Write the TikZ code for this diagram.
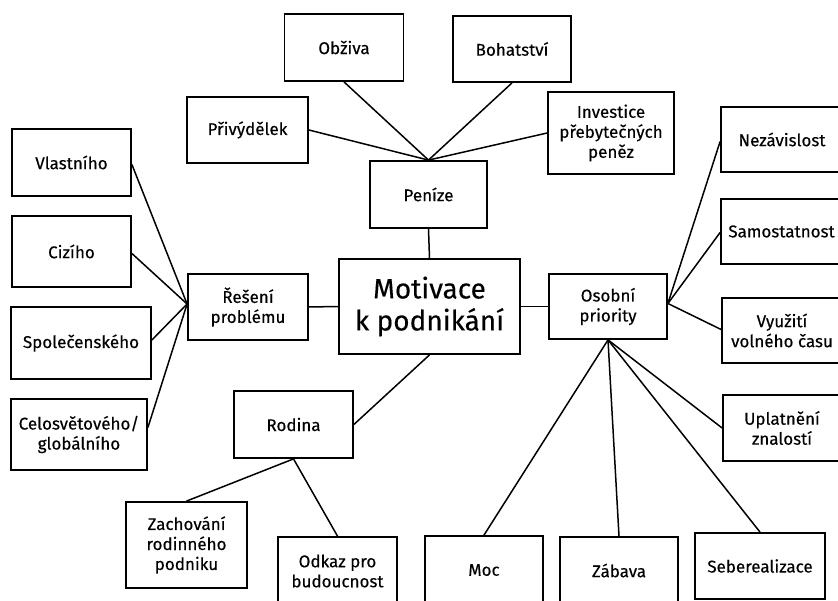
\documentclass[tikz,border=0pt]{standalone}
\usepackage{fontspec}
\setmainfont{Fira Sans}[FakeBold=0.3]
\begin{document}
\begin{tikzpicture}[x=1pt,y=-1pt,
  box/.style={draw,line width=1.8pt,rectangle,inner sep=0pt,align=center,
    font=\fontsize{17}{20}\selectfont},
  link/.style={line width=1.5pt}]
\useasboundingbox (0,0) rectangle (838,601);
\clip (0,0) rectangle (838,601);
% top
\node[box,minimum width=119pt,minimum height=67pt] (obz) at (344,47.5) {Obživa};
\node[box,minimum width=118pt,minimum height=66pt] (boh) at (512,49) {Bohatství};
\node[box,minimum width=121pt,minimum height=66pt] (pri) at (247.5,130) {Přivýdělek};
\node[box,minimum width=117pt,minimum height=67pt] (pen) at (428.5,194.5) {Peníze};
\node[box,minimum width=126pt,minimum height=82pt] (inv) at (611,133) {Investice\\přebytečných\\peněz};
% right
\node[box,minimum width=122pt,minimum height=65pt] (nez) at (782,139.5) {Nezávislost};
\node[box,minimum width=121pt,minimum height=65pt] (sam) at (781.5,231.5) {Samostatnost};
\node[box,minimum width=120pt,minimum height=65pt] (vyu) at (782,330.5) {Využití\\volného času};
\node[box,minimum width=118pt,minimum height=66pt] (upl) at (782,428) {Uplatnění\\znalostí};
% left
\node[box,minimum width=119pt,minimum height=67pt] (vla) at (71.5,162.5) {Vlastního};
\node[box,minimum width=119pt,minimum height=71pt] (ciz) at (71.5,251.5) {Cizího};
\node[box,minimum width=120pt,minimum height=66pt] (res) at (248,307) {Řešení\\problému};
\node[box,minimum width=140pt,minimum height=72pt] (spo) at (81,343) {Společenského};
\node[box,minimum width=136pt,minimum height=71pt] (cel) at (79,434.5) {Celosvětového/\\globálního};
% bottom left
\node[box,minimum width=119pt,minimum height=67pt] (rod) at (293.5,424.5) {Rodina};
\node[box,minimum width=121pt,minimum height=86pt] (zac) at (186.5,545) {Zachování\\rodinného\\podniku};
\node[box,minimum width=119pt,minimum height=68pt] (odk) at (337.5,571) {Odkaz pro\\budoucnost};
% centre
\node[box,minimum width=181pt,minimum height=95pt,font=\fontsize{28}{32}\selectfont] (mot) at (429.5,306.5) {Motivace\\k podnikání};
\node[box,minimum width=118pt,minimum height=65pt] (oso) at (608,306.5) {Osobní\\priority};
% bottom right
\node[box,minimum width=118pt,minimum height=68pt] (moc) at (484,570) {Moc};
\node[box,minimum width=118pt,minimum height=67pt] (zab) at (619,570.5) {Zábava};
\node[box,minimum width=130pt,minimum height=66pt] (seb) at (760,566) {Seberealizace};
% connectors
\draw[link] (pen.north) -- (obz.south);
\draw[link] (pen.north) -- (boh.south);
\draw[link] (pen.north) -- (pri.east);
\draw[link] (pen.north) -- (inv.west);
\draw[link] (pen.south) -- (mot.north);
\draw[link] (mot.west) -- (res.east);
\draw[link] (mot.east) -- (oso.west);
\draw[link] (mot.south) -- (rod.east);
\draw[link] ([yshift=3pt]res.west) -- ([yshift=-2pt]vla.east);
\draw[link] ([yshift=3pt]res.west) -- ([yshift=-2pt]ciz.east);
\draw[link] ([yshift=3pt]res.west) -- ([yshift=3pt]spo.east);
\draw[link] ([yshift=3pt]res.west) -- ([yshift=7pt]cel.east);
\draw[link] (rod.south) -- (zac.north);
\draw[link] (rod.south) -- (odk.north);
\draw[link] ([yshift=3pt]oso.east) -- ([yshift=-2pt]nez.west);
\draw[link] ([yshift=3pt]oso.east) -- ([yshift=-1pt]sam.west);
\draw[link] ([yshift=3pt]oso.east) -- ([yshift=1pt]vyu.west);
\draw[link] (oso.south) -- (upl.west);
\draw[link] (oso.south) -- (moc.north);
\draw[link] (oso.south) -- (zab.north);
\draw[link] (oso.south) -- (seb.north);
\end{tikzpicture}
\end{document}
